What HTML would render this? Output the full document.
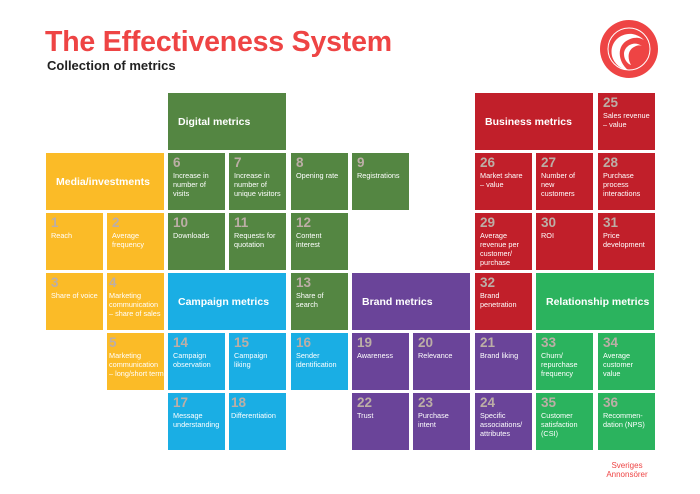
<!DOCTYPE html>
<html><head><meta charset="utf-8"><style>
body{margin:0;width:700px;height:494px;background:#fff;position:relative;overflow:hidden;font-family:"Liberation Sans",sans-serif}
.c{position:absolute;width:57px;height:57px;color:#fff;font-size:7.3px;line-height:9px;box-sizing:border-box;padding:2px 4px 0 5px}
.c b{display:block;font-size:13.5px;line-height:15px;color:#bcaea6;font-weight:bold;margin-bottom:1px}
.h{position:absolute;width:118px;height:57px;color:#fff;font-weight:bold;font-size:10.5px;display:flex;align-items:center;padding-left:10px;box-sizing:border-box}
.y{background:#fbbb27}.g{background:#548642}.bl{background:#1aaee4}.p{background:#6a4499}.r{background:#c11f2a}.gg{background:#2bb35e}
</style></head><body>
<div style="position:absolute;left:45px;top:26px;font-size:28.5px;font-weight:bold;color:#ee4444;letter-spacing:-0.2px">The Effectiveness System</div>
<div style="position:absolute;left:47px;top:58px;font-size:13px;font-weight:bold;color:#222">Collection of metrics</div>
<svg style="position:absolute;left:598px;top:18px" width="62" height="62" viewBox="0 0 62 62">
<circle cx="31" cy="31" r="29" fill="#ee4444"/>
<circle cx="31" cy="31" r="21" fill="none" stroke="#fff" stroke-width="1"/>
<path d="M46 22 C32 8 10 20 14 38 C16 46 24 52 30 52 C20 44 18 28 30 22 C37 18 43 20 46 22Z" fill="#fff"/>
<path d="M44 28 C36 22 26 28 26 36 C26 42 30 46 33 47 C29 40 30 32 36 29 C39 27 42 27 44 28Z" fill="#fff"/>
</svg>
<div class="h g" style="left:168px;top:93px">Digital metrics</div>
<div class="h y" style="left:46px;top:153px">Media/investments</div>
<div class="h bl" style="left:168px;top:273px">Campaign metrics</div>
<div class="h p" style="left:352px;top:273px">Brand metrics</div>
<div class="h r" style="left:475px;top:93px">Business metrics</div>
<div class="h gg" style="left:536px;top:273px">Relationship metrics</div>

<div class="c r" style="left:598px;top:93px"><b>25</b>Sales revenue – value</div>

<div class="c g" style="left:168px;top:153px"><b>6</b>Increase in number of visits</div>
<div class="c g" style="left:229px;top:153px"><b>7</b>Increase in number of unique visitors</div>
<div class="c g" style="left:291px;top:153px"><b>8</b>Opening rate</div>
<div class="c g" style="left:352px;top:153px"><b>9</b>Registrations</div>
<div class="c r" style="left:475px;top:153px"><b>26</b>Market share – value</div>
<div class="c r" style="left:536px;top:153px"><b>27</b>Number of new customers</div>
<div class="c r" style="left:598px;top:153px"><b>28</b>Purchase process interactions</div>

<div class="c y" style="left:46px;top:213px"><b>1</b>Reach</div>
<div class="c y" style="left:107px;top:213px"><b>2</b>Average frequency</div>
<div class="c g" style="left:168px;top:213px"><b>10</b>Downloads</div>
<div class="c g" style="left:229px;top:213px"><b>11</b>Requests for quotation</div>
<div class="c g" style="left:291px;top:213px"><b>12</b>Content interest</div>
<div class="c r" style="left:475px;top:213px"><b>29</b>Average revenue per customer/ purchase</div>
<div class="c r" style="left:536px;top:213px"><b>30</b>ROI</div>
<div class="c r" style="left:598px;top:213px"><b>31</b>Price development</div>

<div class="c y" style="left:46px;top:273px"><b>3</b>Share of voice</div>
<div class="c y" style="left:107px;top:273px;padding:2px 0 0 2px"><b>4</b>Marketing communication – share of sales</div>
<div class="c g" style="left:291px;top:273px"><b>13</b>Share of search</div>
<div class="c r" style="left:475px;top:273px"><b>32</b>Brand penetration</div>

<div class="c y" style="left:107px;top:333px;padding:2px 0 0 2px"><b>5</b>Marketing communication – long/short term</div>
<div class="c bl" style="left:168px;top:333px"><b>14</b>Campaign observation</div>
<div class="c bl" style="left:229px;top:333px"><b>15</b>Campaign liking</div>
<div class="c bl" style="left:291px;top:333px"><b>16</b>Sender identification</div>
<div class="c p" style="left:352px;top:333px"><b>19</b>Awareness</div>
<div class="c p" style="left:413px;top:333px"><b>20</b>Relevance</div>
<div class="c p" style="left:475px;top:333px"><b>21</b>Brand liking</div>
<div class="c gg" style="left:536px;top:333px"><b>33</b>Churn/ repurchase frequency</div>
<div class="c gg" style="left:598px;top:333px"><b>34</b>Average customer value</div>

<div class="c bl" style="left:168px;top:393px;padding-right:0"><b>17</b>Message understanding</div>
<div class="c bl" style="left:229px;top:393px;padding:2px 0 0 2px"><b>18</b>Differentiation</div>
<div class="c p" style="left:352px;top:393px"><b>22</b>Trust</div>
<div class="c p" style="left:413px;top:393px"><b>23</b>Purchase intent</div>
<div class="c p" style="left:475px;top:393px;padding-right:1px"><b>24</b>Specific associations/ attributes</div>
<div class="c gg" style="left:536px;top:393px"><b>35</b>Customer satisfaction (CSI)</div>
<div class="c gg" style="left:598px;top:393px"><b>36</b>Recommen-dation (NPS)</div>

<div style="position:absolute;left:600px;top:461px;width:54px;text-align:center;color:#ee4444;font-size:8px;line-height:9px">Sveriges<br>Annonsörer</div>
</body></html>
